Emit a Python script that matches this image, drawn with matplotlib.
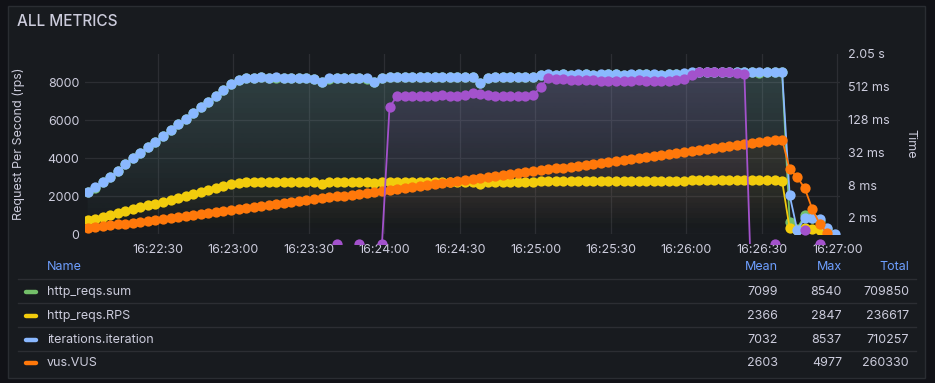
import numpy as np
import pandas as pd
import matplotlib
matplotlib.use('Agg')
import matplotlib.pyplot as plt
import matplotlib.dates as mdates
import matplotlib.colors as mcolors
from matplotlib.path import Path
from matplotlib.patches import Rectangle
from matplotlib.lines import Line2D

plt.rcParams['font.family'] = ['Inter', 'DejaVu Sans']

nan = np.nan

# one sample every 3 s
times = pd.date_range('2023-05-10 16:22:02', periods=100, freq='3s')

sum_vals = [2200, 2460, 2730, 2990, 3310, 3670, 3990, 4250, 4570, 4830,
            5150, 5460, 5780, 6040, 6360, 6670, 6940, 7250, 7570, 7880,
            8090, 8200, 8220, 8240, 8210, 8230, 8220, 8190, 8200, 8220,
            8170, 7990, 8180, 8210, 8220, 8190, 8200, 8180, 8010, 8190,
            8240, 8260, 8250, 8270, 8260, 8250, 8260, 8270, 8250, 8260,
            8240, 8250, 7940, 8220, 8250, 8260, 8270, 8250, 8260, 8270,
            8370, 8390, 8380, 8400, 8370, 8390, 8400, 8380, 8390, 8410,
            8400, 8380, 8390, 8400, 8410, 8390, 8380, 8400, 8410, 8440,
            8490, 8510, 8500, 8520, 8510, 8530, 8500, 8510, 8540, 8490,
            8500, 8520, 8510, 650, 300, 1000, 850, 700, 300, nan]

rps_vals = [740, 830, 910, 1000, 1110, 1230, 1330, 1420, 1530, 1610,
            1720, 1820, 1930, 2020, 2120, 2230, 2320, 2420, 2530, 2630,
            2700, 2740, 2750, 2750, 2740, 2750, 2740, 2740, 2740, 2750,
            2730, 2670, 2730, 2740, 2750, 2740, 2740, 2730, 2680, 2740,
            2750, 2760, 2760, 2760, 2760, 2750, 2760, 2760, 2750, 2760,
            2750, 2760, 2650, 2740, 2750, 2760, 2760, 2750, 2760, 2760,
            2790, 2800, 2800, 2800, 2790, 2800, 2800, 2800, 2800, 2810,
            2800, 2800, 2800, 2800, 2810, 2800, 2800, 2800, 2810, 2820,
            2830, 2840, 2840, 2847, 2840, 2845, 2840, 2840, 2845, 2830,
            2840, 2845, 2800, 315, 210, 330, 280, 210, 100, nan]

iter_vals = [2210, 2470, 2740, 3000, 3320, 3680, 4000, 4260, 4580, 4840,
             5160, 5470, 5790, 6050, 6370, 6680, 6950, 7260, 7580, 7890,
             8100, 8210, 8230, 8250, 8220, 8240, 8230, 8200, 8210, 8230,
             8180, 8000, 8190, 8220, 8230, 8200, 8210, 8190, 8020, 8200,
             8250, 8270, 8260, 8280, 8270, 8260, 8270, 8280, 8260, 8270,
             8250, 8260, 7950, 8230, 8260, 8270, 8280, 8260, 8270, 8280,
             8380, 8400, 8390, 8410, 8380, 8400, 8410, 8390, 8400, 8420,
             8410, 8390, 8400, 8410, 8420, 8400, 8390, 8410, 8420, 8450,
             8500, 8520, 8510, 8530, 8520, 8537, 8510, 8520, 8530, 8500,
             8510, 8530, 8520, 2050, 230, 840, 840, 800, 320, 0]

vus_vals = [320, 370, 420, 470, 520, 570, 620, 670, 720, 770,
            820, 870, 920, 970, 1020, 1080, 1130, 1180, 1230, 1280,
            1330, 1380, 1430, 1480, 1530, 1580, 1630, 1680, 1730, 1790,
            1840, 1890, 1940, 1990, 2040, 2090, 2140, 2190, 2240, 2290,
            2340, 2390, 2440, 2500, 2550, 2600, 2650, 2700, 2750, 2800,
            2850, 2900, 2950, 3000, 3050, 3100, 3150, 3210, 3260, 3310,
            3360, 3410, 3460, 3510, 3560, 3610, 3660, 3710, 3760, 3810,
            3860, 3920, 3970, 4020, 4070, 4120, 4170, 4220, 4270, 4320,
            4370, 4420, 4470, 4520, 4570, 4620, 4680, 4730, 4780, 4830,
            4880, 4930, 4977, 3420, 3000, 2420, 1320, 530, 50, nan]

# response time in ms (right axis), gaps = no data
dur_vals = [nan] * 33 + [0.66, nan, nan, 0.66, nan, nan, 0.66, 218,
            347, 350, 345, 352, 347, 350, 355, 348, 352, 362,
            390, 375, 360, 352, 348, 350, 352, 347, 355,
            508,
            743, 712, 700, 690, 680, 675, 670, 665, 663, 668,
            660, 665, 670, 663, 660, 668, 665, 680,
            720, 860,
            950, 960, 940, 955, 970, 930, 890,
            0.05, nan, nan, 0.66, nan, nan, nan, 1.2, nan, 0.66, nan, nan]

names = ['http_reqs.sum', 'http_reqs.RPS', 'iterations.iteration', 'vus.VUS']
colors = ['#73bf69', '#f2cc0c', '#8ab8ff', '#ff780a']
mean_lbl = ['7099', '2366', '7032', '2603']
max_lbl = ['8540', '2847', '8537', '4977']
total_lbl = ['709850', '236617', '710257', '260330']
dur_color = '#a352cc'

W, H = 935, 383
TXT = '#ccccdc'
fx = lambda x: x / W
fy = lambda y: 1 - y / H

fig = plt.figure(figsize=(W / 100, H / 100), dpi=100, facecolor='#111217')
fig.patches.append(Rectangle((fx(8), fy(378)), (925 - 8) / W, (378 - 6) / H,
                             transform=fig.transFigure, fc='#181b1f', ec='#2a2d32', lw=1,
                             zorder=-10))

ax = fig.add_axes([fx(85), fy(234.4), 755 / W, 180.4 / H])
ax.set_facecolor('none')
ax2 = ax.twinx()
ax2.set_yscale('log', base=2)


def grad_fill(src_ax, x, y, y0, color, a_top):
    poly = src_ax.fill_between(x, y, y0, lw=0)
    path = Path.make_compound_path(*poly.get_paths())
    poly.remove()
    img = np.zeros((64, 1, 4))
    img[..., :3] = mcolors.to_rgb(color)
    img[..., 3] = np.linspace(0, a_top, 64)[:, None]
    im = ax.imshow(img, extent=[0, 1, 0, 1], transform=ax.transAxes, origin='lower',
                   aspect='auto', zorder=1, interpolation='bilinear')
    im.set_clip_path(path, src_ax.transData)


MS = 7.4
series = [sum_vals, rps_vals, iter_vals, vus_vals]
for k, (vals, c) in enumerate(zip(series, colors)):
    ax.plot(times, vals, color=c, lw=1.3, marker='o', ms=MS, mew=0, zorder=3 + k)

dline, = ax2.plot(times, dur_vals, color=dur_color, lw=1.3, marker='o', ms=MS, mew=0, zorder=3)
dline.set_clip_path(Rectangle((0, -0.055), 1, 1.055, transform=ax2.transAxes))

for vals, c in zip(series, colors):
    grad_fill(ax, times, vals, 0, c, 0.14)
grad_fill(ax2, times, dur_vals, 0.001, dur_color, 0.16)

ax.set_xlim(pd.Timestamp('2023-05-10 16:22:01'), pd.Timestamp('2023-05-10 16:27:01'))
ax.set_ylim(0, 9470)
ax2.set_ylim(1, 2048)

ax.xaxis.set_major_locator(mdates.SecondLocator(bysecond=[0, 30]))
ax.xaxis.set_major_formatter(mdates.DateFormatter('%H:%M:%S'))
ax.set_yticks([0, 2000, 4000, 6000, 8000])
ax2.set_yticks([2, 8, 32, 128, 512, 2048])
ax2.set_yticklabels(['2 ms', '8 ms', '32 ms', '128 ms', '512 ms', '2.05 s'])
ax2.minorticks_off()

ax.grid(True, color='#2c2e33', lw=0.9)
ax.set_axisbelow(True)
for a in (ax, ax2):
    for s in a.spines.values():
        s.set_visible(False)
ax.tick_params(axis='both', length=0, colors=TXT, labelsize=9)
ax.tick_params(axis='x', pad=7)
ax.tick_params(axis='y', pad=4)
ax2.tick_params(axis='y', length=0, colors=TXT, labelsize=9, pad=6)

ax.set_ylabel('Request Per Second (rps)', color=TXT, fontsize=9)
ax.yaxis.set_label_coords((25 - 85) / 755, 0.5)
ax2.set_ylabel('Time', color=TXT, fontsize=9, rotation=270, va='center')
ax2.yaxis.set_label_coords((910 - 85) / 755, 0.5)

fig.text(fx(17), fy(22), 'ALL METRICS', fontsize=11, color=TXT, fontweight='medium', va='center')

# legend table
hdr = '#6e9fff'
fig.text(fx(47), fy(267), 'Name', color=hdr, fontsize=9, va='center')
fig.text(fx(778), fy(267), 'Mean', color=hdr, fontsize=9, va='center', ha='right')
fig.text(fx(842), fy(267), 'Max', color=hdr, fontsize=9, va='center', ha='right')
fig.text(fx(909), fy(267), 'Total', color=hdr, fontsize=9, va='center', ha='right')
row_y = [292, 316, 340, 363]
for y in [279, 303, 327, 351]:
    fig.add_artist(Line2D([fx(18), fx(916)], [fy(y), fy(y)], color='#2c2e33', lw=1))
for i, y in enumerate(row_y):
    fig.add_artist(Line2D([fx(26), fx(36)], [fy(y), fy(y)], color=colors[i], lw=3.2,
                          solid_capstyle='round'))
    fig.text(fx(47), fy(y), names[i], color=TXT, fontsize=9, va='center')
    fig.text(fx(778), fy(y), mean_lbl[i], color=TXT, fontsize=9, va='center', ha='right')
    fig.text(fx(842), fy(y), max_lbl[i], color=TXT, fontsize=9, va='center', ha='right')
    fig.text(fx(909), fy(y), total_lbl[i], color=TXT, fontsize=9, va='center', ha='right')

fig.savefig('out.png', dpi=100, facecolor=fig.get_facecolor())
